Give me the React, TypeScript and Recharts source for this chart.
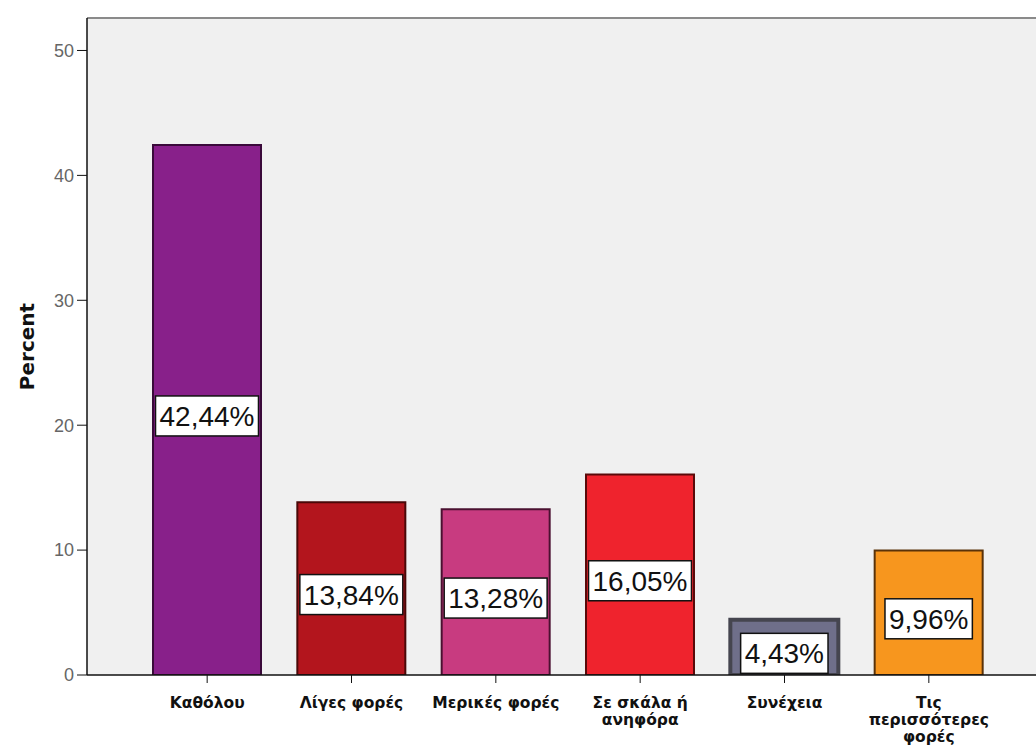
import { Bar, BarChart, CartesianGrid, Cell, LabelList, ReferenceLine, XAxis, YAxis } from 'recharts';

const categories = ['Καθόλου', 'Λίγες φορές', 'Μερικές φορές', 'Σε σκάλα ή\nανηφόρα', 'Συνέχεια', 'Τις\nπερισσότερες\nφορές'];
const percents = [42.44, 13.84, 13.28, 16.05, 4.43, 9.96];
const yTicks = [0, 10, 20, 30, 40, 50];
const yMax = 52.6;

const fills = ['#88208a', '#b3151d', '#c83b80', '#ef232d', '#6f6f8a', '#f7961e'];
const strokes = ['#3a0a3a', '#4a0808', '#4a1030', '#5a0a0a', '#45454f', '#5a3208'];

const data = categories.map((name, i) => ({ name, value: percents[i] }));

function fmt(v: number) {
  return v.toFixed(2).replace('.', ',') + '%';
}

function textWidth(s: string, size: number) {
  let w = 0;
  for (const c of s) {
    if (c === ',') w += 0.278;
    else if (c === '%') w += 0.889;
    else w += 0.556;
  }
  return w * size;
}

function PercentLabel(props: any) {
  const { x, y, width, height, value } = props;
  const size = 28;
  const label = fmt(Number(value));
  const tw = textWidth(label, size);
  const bw = Math.min(tw + 8, width - 4);
  const bh = 40;
  const cx = x + width / 2;
  const cy = y + height / 2 + 6;
  return (
    <g>
      <rect x={cx - bw / 2} y={cy - bh / 2} width={bw} height={bh} fill="#fff" stroke="#111" strokeWidth={1.5} />
      <text x={cx} y={cy + 10} textAnchor="middle" fontSize={size} fontFamily="Arial, 'Liberation Sans', sans-serif" fill="#111">
        {label}
      </text>
    </g>
  );
}

function CategoryTick(props: any) {
  const { x, y, payload } = props;
  const lines = String(payload.value).split('\n');
  return (
    <g>
      {lines.map((line, i) => (
        <text
          key={i}
          x={x}
          y={y + 23 + i * 17}
          textAnchor="middle"
          fontSize={15.5}
          fontWeight="bold"
          fontFamily="'DejaVu Sans', Verdana, sans-serif"
          fill="#111"
        >
          {line}
        </text>
      ))}
    </g>
  );
}

function PercentTitle(props: any) {
  const vb = props.viewBox;
  const cy = vb.y + vb.height / 2;
  return (
    <text
      x={34}
      y={cy}
      transform={`rotate(-90, 34, ${cy})`}
      textAnchor="middle"
      fontSize={20}
      fontWeight="bold"
      fontFamily="'DejaVu Sans', Verdana, sans-serif"
      fill="#111"
    >
      Percent
    </text>
  );
}

export default function App() {
  return (
    <div style={{ position: 'absolute', left: 0, top: 0, background: '#fff' }}>
      <BarChart width={1036} height={753} data={data} margin={{ top: 18, right: 0, left: 7, bottom: 8 }}>
        <CartesianGrid fill="#f0f0f0" horizontal={false} vertical={false} />
        <ReferenceLine y={yMax} stroke="#8a8a8a" strokeWidth={2} />
        <XAxis
          dataKey="name"
          interval={0}
          height={70}
          padding={{ left: 48, right: 35 }}
          tickSize={8}
          axisLine={{ stroke: '#111', strokeWidth: 1.5 }}
          tickLine={{ stroke: '#111' }}
          tick={<CategoryTick />}
        />
        <YAxis
          width={80}
          domain={[0, yMax]}
          ticks={yTicks}
          allowDataOverflow
          tickSize={10}
          tickMargin={3}
          axisLine={{ stroke: '#111', strokeWidth: 1.5 }}
          tickLine={{ stroke: '#111' }}
          tick={{ fontSize: 18, fill: '#666', fontFamily: "Arial, 'Liberation Sans', sans-serif" }}
          label={{ content: <PercentTitle /> }}
        />
        <Bar dataKey="value" barSize={108} isAnimationActive={false}>
          {data.map((d, i) => (
            <Cell key={d.name} fill={fills[i]} stroke={strokes[i]} strokeWidth={i === 4 ? 4 : 2} />
          ))}
          <LabelList dataKey="value" content={<PercentLabel />} />
        </Bar>
      </BarChart>
    </div>
  );
}
